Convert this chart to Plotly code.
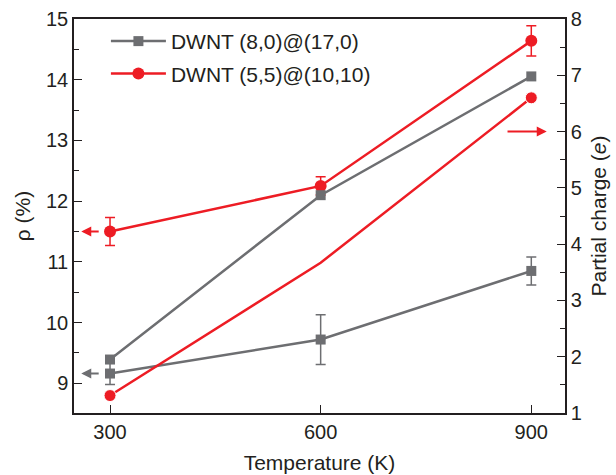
import plotly.graph_objects as go

temps = [300, 600, 900]
names = ["DWNT (8,0)@(17,0)", "DWNT (5,5)@(10,10)"]

# rho (%) on left axis
rho_gray = [9.16, 9.72, 10.85]
rho_gray_err = [0.18, 0.41, 0.23]
rho_red = [11.5, 12.25, 14.64]
rho_red_err = [0.23, 0.15, 0.25]

# partial charge (e) on right axis
q_gray = [1.95, 4.87, 6.98]
q_red = [1.31, 3.67, 6.6]

GRAY = "#6d6e71"
RED = "#ed1c24"
FONT = "Liberation Sans, Arial, sans-serif"
TXT = "#231f20"

fig = go.Figure()

fig.add_trace(go.Scatter(
    x=temps, y=rho_gray, name=names[0], mode="lines+markers", legendgroup="g",
    line=dict(color=GRAY, width=2.5),
    marker=dict(symbol="square", size=10, color=GRAY, opacity=1),
    error_y=dict(type="data", array=rho_gray_err, color=GRAY, thickness=1.5, width=5),
))
fig.add_trace(go.Scatter(
    x=temps, y=rho_red, name=names[1], mode="lines+markers", legendgroup="r",
    line=dict(color=RED, width=2.5),
    marker=dict(symbol="circle", size=12, color=RED, opacity=1),
    error_y=dict(type="data", array=rho_red_err, color=RED, thickness=1.5, width=5),
))
fig.add_trace(go.Scatter(
    x=temps, y=q_gray, name=names[0], mode="lines+markers", yaxis="y2",
    showlegend=False, legendgroup="g",
    line=dict(color=GRAY, width=2.5),
    marker=dict(symbol="square", size=10, color=GRAY, opacity=1),
))
fig.add_trace(go.Scatter(
    x=temps, y=q_red, name=names[1], mode="lines+markers", yaxis="y2",
    showlegend=False, legendgroup="r",
    line=dict(color=RED, width=2.5),
    marker=dict(symbol="circle", size=[12, 0, 12], color=RED, opacity=1),
))

# axis-indicator arrows
fig.add_annotation(x=259, y=rho_gray[0], ax=286, ay=rho_gray[0], xref="x", yref="y",
                   axref="x", ayref="y", showarrow=True, arrowhead=2, arrowsize=1,
                   arrowwidth=2, arrowcolor=GRAY, text="")
fig.add_annotation(x=259, y=rho_red[0], ax=286, ay=rho_red[0], xref="x", yref="y",
                   axref="x", ayref="y", showarrow=True, arrowhead=2, arrowsize=1,
                   arrowwidth=2, arrowcolor=RED, text="")
fig.add_annotation(x=922, y=6, ax=864, ay=6, xref="x", yref="y2",
                   axref="x", ayref="y2", showarrow=True, arrowhead=2, arrowsize=1,
                   arrowwidth=2, arrowcolor=RED, text="")

axis_common = dict(
    showline=True, linecolor=TXT, linewidth=1.5,
    ticks="inside", ticklen=8, tickwidth=1.2, tickcolor=TXT,
    showgrid=False, zeroline=False, automargin=False,
    tickfont=dict(family=FONT, size=20, color=TXT),
    title_font=dict(family=FONT, size=21, color=TXT),
)

fig.update_layout(
    width=616, height=475,
    margin=dict(l=74, r=51, t=19, b=62),
    paper_bgcolor="white", plot_bgcolor="white",
    font=dict(family=FONT, size=20, color=TXT),
    showlegend=True,
    legend=dict(x=0.065, y=0.995, xanchor="left", yanchor="top",
                bgcolor="rgba(0,0,0,0)", font=dict(family=FONT, size=21, color=TXT),
                tracegroupgap=2, itemwidth=55),
    xaxis=dict(**axis_common, range=[248.7, 948], tickvals=temps,
               mirror=True, title=dict(text="Temperature (K)", standoff=14)),
    yaxis=dict(**axis_common, range=[8.51, 15.0], dtick=1, tick0=9,
               minor=dict(ticks="inside", ticklen=5, dtick=0.5, tickcolor=TXT, tickwidth=1.2),
               title=dict(text="ρ (%)", standoff=10)),
    yaxis2=dict(**axis_common, range=[1, 8], dtick=1, overlaying="y", side="right",
                minor=dict(ticks="inside", ticklen=5, dtick=0.5, tickcolor=TXT, tickwidth=1.2),
                title=dict(text="Partial charge (<i>e</i>)", standoff=10)),
)

fig.write_html("out.html")
